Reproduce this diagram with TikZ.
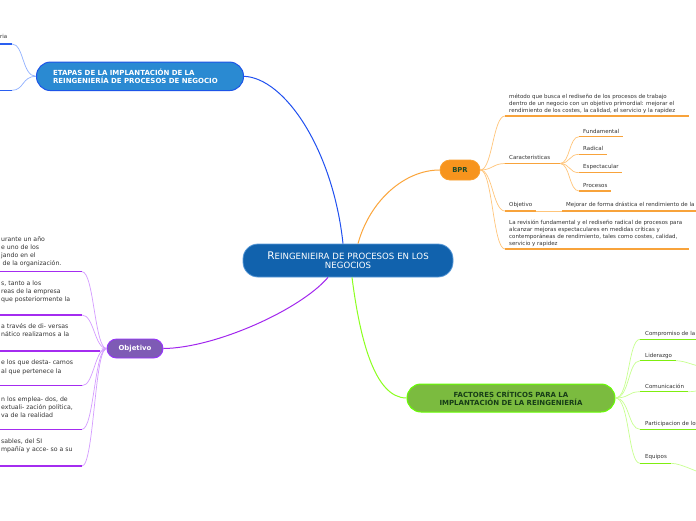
\documentclass[tikz,border=0pt]{standalone}
\usepackage{fontspec}
\setmainfont{DejaVu Sans}
\definecolor{cMain}{HTML}{1162AD}
\definecolor{cMainB}{HTML}{5A9AD8}
\definecolor{cEt}{HTML}{2A8AD2}
\definecolor{cEtB}{HTML}{1D55E8}
\definecolor{cBpr}{HTML}{F7941D}
\definecolor{cBprB}{HTML}{FA9F2E}
\definecolor{cBprT}{HTML}{1D4A2A}
\definecolor{cObj}{HTML}{7E5BB5}
\definecolor{cObjB}{HTML}{9933FF}
\definecolor{cFac}{HTML}{7BBB3F}
\definecolor{cFacB}{HTML}{66FF00}
\definecolor{cFacT}{HTML}{173D17}
\definecolor{cText}{HTML}{333333}
\definecolor{lBlue}{HTML}{2050F0}
\definecolor{lOr}{HTML}{FBA53B}
\definecolor{lPu}{HTML}{A226EE}
\definecolor{lGr}{HTML}{8CFF20}
\definecolor{bOr}{HTML}{FFC57A}
\definecolor{uOr}{HTML}{F8A33B}
\definecolor{bPu}{HTML}{D49CFF}
\definecolor{uPu}{HTML}{A42CF0}
\definecolor{bGr}{HTML}{C8FF90}
\definecolor{uGr}{HTML}{7FEE10}
\definecolor{bBl}{HTML}{8FB0FF}
\definecolor{uBl}{HTML}{2A5FF0}
\begin{document}
\begin{tikzpicture}[x=1pt,y=-1pt,
  mainbox/.style={rectangle, rounded corners=15pt, fill=cMain, draw=cMainB, line width=0.8pt,
    text=white, align=center, text width=200pt, inner xsep=5pt, inner ysep=0pt,
    minimum height=33pt, font=\fontsize{8.6}{9.2}\selectfont},
  etbox/.style={rectangle, rounded corners=14pt, fill=cEt, draw=cEtB, line width=1pt,
    text=white, align=left, text width=174pt, inner xsep=16.5pt, inner ysep=0pt,
    minimum height=28.5pt, font=\fontsize{7}{8.3}\selectfont\bfseries},
  bprbox/.style={rectangle, rounded corners=10pt, fill=cBpr, draw=cBprB, line width=0.8pt,
    text=cBprT, minimum width=40pt, minimum height=20pt, inner sep=0pt,
    font=\fontsize{6.8}{8}\selectfont\bfseries},
  objbox/.style={rectangle, rounded corners=9.5pt, fill=cObj, draw=cObjB, line width=0.9pt,
    text=white, minimum width=56pt, minimum height=19pt, inner sep=0pt,
    font=\fontsize{6.9}{8}\selectfont\bfseries},
  facbox/.style={rectangle, rounded corners=14pt, fill=cFac, draw=cFacB, line width=1pt,
    text=cFacT, align=center, text width=200pt, inner xsep=4pt, inner ysep=0pt,
    minimum height=28pt, font=\fontsize{7}{8.3}\selectfont\bfseries},
  small/.style={anchor=base west, inner sep=0pt, align=left, text=cText,
    font=\fontsize{5.5}{6.9}\selectfont},
  lefttxt/.style={anchor=base west, inner sep=0pt, align=left, text=cText,
    font=\fontsize{6.2}{8.2}\selectfont},
  conn/.style={line width=1pt},
  br/.style={line width=0.7pt},
  ul/.style={line width=1.4pt}
]
\useasboundingbox (0,0) rectangle (696,520);
\fill[white] (0,0) rectangle (696,520);
\clip (0,0) rectangle (696,520);

% main nodes
\node[mainbox] (c) at (348,260.5) {{\fontsize{10.5}{9.2}\selectfont R}EINGENIEIRA DE PROCESOS EN LOS\\NEGOCIOS};
\node[etbox] (e) at (140,76.3) {ETAPAS DE LA IMPLANTACIÓN DE LA\\REINGENIERÍA DE PROCESOS DE NEGOCIO};
\node[bprbox] (b) at (460,170) {BPR};
\node[objbox] (o) at (135,348.5) {Objetivo};
\node[facbox] (f) at (511,398) {FACTORES CRÍTICOS PARA LA\\IMPLANTACIÓN DE LA REINGENIERÍA};

% main connectors
\draw[conn, lBlue] ([xshift=-5pt]c.north) .. controls (333,150) and (285,78) .. (e.east);
\draw[conn, lOr] ([xshift=10pt]c.north) .. controls (370,200) and (405,170) .. (b.west);
\draw[conn, lPu] ([xshift=-20pt]c.south) .. controls (300,310) and (215,348) .. (o.east);
\draw[conn, lGr] ([xshift=4pt]c.south) .. controls (360,340) and (375,398) .. (f.west);

% ETAPAS children
\coordinate (e1s) at (0,44); \coordinate (e1e) at (12,44);
\coordinate (e2s) at (0,90.3); \coordinate (e2e) at (12,90.3);
\node[small] (e1t) at (0,38) {ria};
\draw[br, bBl] (e.west) .. controls +(-14,0) and +(12,0) .. (e1e);
\draw[br, bBl] (e.west) .. controls +(-14,0) and +(12,0) .. (e2e);
\draw[ul, uBl] (e1s) -- (e1e);
\draw[ul, uBl] (e2s) -- (e2e);

% BPR children
\coordinate (b1s) at (505,116); \coordinate (b1e) at (689,116);
\coordinate (b2s) at (505,163.5); \coordinate (b2e) at (560,163.5);
\coordinate (b21s) at (579,136.7); \coordinate (b21e) at (623,136.7);
\coordinate (b22s) at (579,154.3); \coordinate (b22e) at (607,154.3);
\coordinate (b23s) at (579,172.7); \coordinate (b23e) at (622,172.7);
\coordinate (b24s) at (579,191); \coordinate (b24e) at (611,191);
\coordinate (b3s) at (505,211); \coordinate (b3e) at (536,211);
\coordinate (b31s) at (562,211); \coordinate (b31e) at (700,211);
\coordinate (b4s) at (505,249); \coordinate (b4e) at (689,249);

\node[small] (b1t) at (509,112) {método que busca el rediseño de los procesos de trabajo\\dentro de un negocio con un objetivo primordial: mejorar el\\rendimiento de los costes, la calidad, el servicio y la rapidez};
\node[small] (b2t) at (509,159.5) {Caracteristicas};
\node[small] (b21t) at (583,133) {Fundamental};
\node[small] (b22t) at (583,150.5) {Radical};
\node[small] (b23t) at (583,168.5) {Espectacular};
\node[small] (b24t) at (583,187) {Procesos};
\node[small] (b3t) at (509,206.5) {Objetivo};
\node[small] (b31t) at (566,206.5) {Mejorar de forma drástica el rendimiento de la};
\node[small] (b4t) at (509,245.2) {La revisión fundamental y el rediseño radical de procesos para\\alcanzar mejoras espectaculares en medidas críticas y\\contemporáneas de rendimiento, tales como costes, calidad,\\servicio y rapidez};

\foreach \t in {b1s,b2s,b3s,b4s}
  \draw[br, bOr] (b.east) .. controls +(12,0) and +(-12,0) .. (\t);
\foreach \t in {b21s,b22s,b23s,b24s}
  \draw[br, bOr] (b2e) .. controls +(10,0) and +(-10,0) .. (\t);
\draw[br, bOr] (b3e) -- (b31s);
\foreach \s/\e in {b1s/b1e,b2s/b2e,b21s/b21e,b22s/b22e,b23s/b23e,b24s/b24e,b3s/b3e,b31s/b31e,b4s/b4e}
  \draw[ul, uOr] (\s) -- (\e);

% Objetivo children
\coordinate (o1s) at (0,271.7); \coordinate (o1e) at (82,271.7);
\coordinate (o2s) at (0,315); \coordinate (o2e) at (82,315);
\coordinate (o3s) at (0,351); \coordinate (o3e) at (100,351);
\coordinate (o4s) at (0,385.7); \coordinate (o4e) at (82,385.7);
\coordinate (o5s) at (0,429.3); \coordinate (o5e) at (82,429.3);
\coordinate (o6s) at (0,466); \coordinate (o6e) at (82,466);

\node[lefttxt] (o1t) at (1,265.6) {urante un año\\e uno de los\\jando en el\\\hspace{1.5pt}de la organización.};
\node[lefttxt] (o2t) at (1,301.9) {s, tanto a los\\reas de la empresa\\que posteriormente la};
\node[lefttxt] (o3t) at (1,336.2) {a través de di- versas\\nático realizamos a la};
\node[lefttxt] (o4t) at (1,373) {e los que desta- camos\\al que pertenece la};
\node[lefttxt] (o5t) at (1,417.4) {n los emplea- dos, de\\extuali- zación política,\\va de la realidad};
\node[lefttxt] (o6t) at (1,451.2) {sables, del SI\\mpañía y acce- so a su};

\foreach \t in {o1e,o2e,o3e,o4e,o5e,o6e}
  \draw[br, bPu] (o.west) .. controls +(-12,0) and +(12,0) .. (\t);
\foreach \s/\e in {o1s/o1e,o2s/o2e,o3s/o3e,o4s/o4e,o5s/o5e,o6s/o6e}
  \draw[ul, uPu] (\s) -- (\e);

% Factores children
\coordinate (f1s) at (640,339.3); \coordinate (f1e) at (700,339.3);
\coordinate (f2s) at (640,360.7); \coordinate (f2e) at (676,360.7);
\coordinate (f3s) at (640,391.7); \coordinate (f3e) at (688,391.7);
\coordinate (f4s) at (640,429.3); \coordinate (f4e) at (700,429.3);
\coordinate (f5s) at (640,463.3); \coordinate (f5e) at (671,463.3);
\coordinate (f2x) at (706,367);
\coordinate (f3x) at (706,390);
\coordinate (f5x) at (712,475);

\node[small] (f1t) at (645,335) {Compromiso de la};
\node[small] (f2t) at (645,357) {Liderazgo};
\node[small] (f3t) at (645,388) {Comunicación};
\node[small] (f4t) at (645,425) {Participacion de los};
\node[small] (f5t) at (645,458.5) {Equipos};

\foreach \t in {f1s,f2s,f3s,f4s,f5s}
  \draw[br, bGr] (f.east) .. controls +(14,0) and +(-12,0) .. (\t);
\draw[br, bGr] (f2e) .. controls +(10,0) and +(-10,0) .. (f2x);
\draw[br, bGr] (f3e) .. controls +(8,0) and +(-8,0) .. (f3x);
\draw[br, bGr] (f5e) .. controls +(12,0) and +(-12,0) .. (f5x);
\foreach \s/\e in {f1s/f1e,f2s/f2e,f3s/f3e,f4s/f4e,f5s/f5e}
  \draw[ul, uGr] (\s) -- (\e);
\end{tikzpicture}
\end{document}
